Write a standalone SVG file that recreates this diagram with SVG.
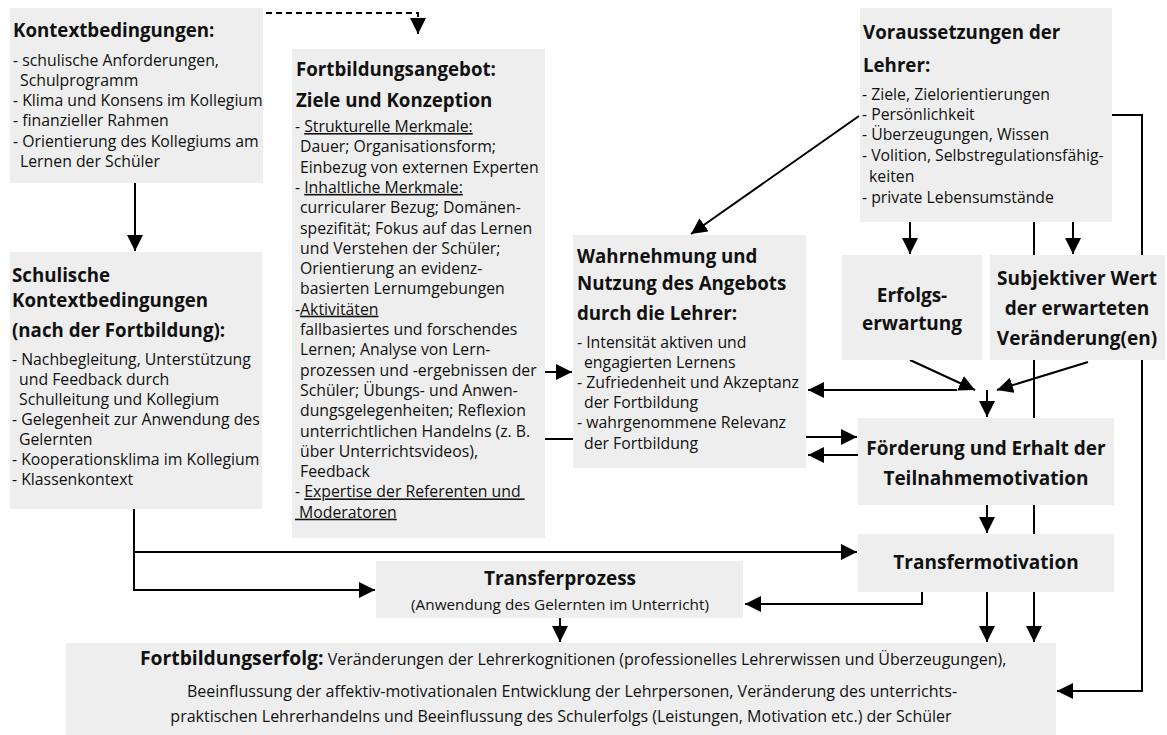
<svg xmlns="http://www.w3.org/2000/svg" width="1167" height="735" viewBox="0 0 1167 735">
  <style>
    .box { fill: #eeeeee; }
    .t { font-family: "Open Sans", "Liberation Sans", sans-serif; font-size: 15.8px; fill: #111; }
    .h { font-family: "Open Sans", "Liberation Sans", sans-serif; font-size: 18.7px; font-weight: bold; fill: #111; }
    .hb { font-family: "Open Sans", "Liberation Sans", sans-serif; font-size: 19px; font-weight: bold; fill: #111; text-anchor: middle; }
    .b16 { font-size: 16px; }
    .u { text-decoration: underline; }
    .ln { fill: none; stroke: #000; stroke-width: 2; }
    .dash { fill: none; stroke: #000; stroke-width: 2; stroke-dasharray: 6 4; }
  </style>
  <defs>
    <marker id="ah" markerUnits="userSpaceOnUse" markerWidth="17" markerHeight="16" refX="16" refY="8" orient="auto">
      <path d="M0,0 L16,8 L0,16 z" fill="#000"/>
    </marker>
  </defs>

  <rect width="1167" height="735" fill="#ffffff"/>

  <g id="connectors">
    <!-- dashed link into the offer box -->
    <path class="dash" d="M266,13 H418 V34" marker-end="url(#ah)"/>
    <!-- context -> school context -->
    <path class="ln" d="M135,183 V251" marker-end="url(#ah)"/>
    <!-- school context -> transfer motivation / transfer process -->
    <path class="ln" d="M134,509 V590 H375" marker-end="url(#ah)"/>
    <path class="ln" d="M134,552 H857" marker-end="url(#ah)"/>
    <!-- offer -> perception -->
    <path class="ln" d="M545,372 H572" marker-end="url(#ah)"/>
    <path class="ln" d="M545,439 H573"/>
    <!-- teacher prerequisites -->
    <path class="ln" d="M859,116 L691,234" marker-end="url(#ah)"/>
    <path class="ln" d="M910,222 V254" marker-end="url(#ah)"/>
    <path class="ln" d="M1073,222 V254" marker-end="url(#ah)"/>
    <path class="ln" d="M1034,222 V642" marker-end="url(#ah)"/>
    <path class="ln" d="M1112,115 H1142 V691 H1057" marker-end="url(#ah)"/>
    <!-- expectancy / value -> motivation -->
    <path class="ln" d="M910,360 L975,390" marker-end="url(#ah)"/>
    <path class="ln" d="M1088,362 L997,390" marker-end="url(#ah)"/>
    <path class="ln" d="M987,390 V417" marker-end="url(#ah)"/>
    <path class="ln" d="M957,390 H808" marker-end="url(#ah)"/>
    <!-- perception <-> participation motivation -->
    <path class="ln" d="M806,437 H857" marker-end="url(#ah)"/>
    <path class="ln" d="M858,455 H808" marker-end="url(#ah)"/>
    <!-- motivation chain -->
    <path class="ln" d="M987,505 V533" marker-end="url(#ah)"/>
    <path class="ln" d="M922,592 V604 H745" marker-end="url(#ah)"/>
    <path class="ln" d="M987,592 V642" marker-end="url(#ah)"/>
    <path class="ln" d="M560,618 V642" marker-end="url(#ah)"/>
  </g>

  <g id="kontext">
    <rect class="box" x="10" y="8" width="253" height="175"/>
    <text class="h" x="13" y="37">Kontextbedingungen:</text>
    <text class="t" x="13" y="66">- schulische Anforderungen,</text>
    <text class="t" x="20" y="86">Schulprogramm</text>
    <text class="t" x="13" y="106">- Klima und Konsens im Kollegium</text>
    <text class="t" x="13" y="126">- finanzieller Rahmen</text>
    <text class="t" x="13" y="147">- Orientierung des Kollegiums am</text>
    <text class="t" x="20" y="167">Lernen der Schüler</text>
  </g>

  <g id="angebot">
    <rect class="box" x="292" y="49" width="253" height="489"/>
    <text class="h" x="296" y="76">Fortbildungsangebot:</text>
    <text class="h" x="296" y="107">Ziele und Konzeption</text>
    <text class="t" x="295" y="132">- <tspan class="u">Strukturelle Merkmale:</tspan></text>
    <text class="t" x="300" y="152.3">Dauer; Organisationsform;</text>
    <text class="t" x="300" y="172.6">Einbezug von externen Experten</text>
    <text class="t" x="295" y="192.9">- <tspan class="u">Inhaltliche Merkmale:</tspan></text>
    <text class="t" x="300" y="213.2">curricularer Bezug; Domänen-</text>
    <text class="t" x="300" y="233.5">spezifität; Fokus auf das Lernen</text>
    <text class="t" x="300" y="253.8">und Verstehen der Schüler;</text>
    <text class="t" x="300" y="274.1">Orientierung an evidenz-</text>
    <text class="t" x="300" y="294.4">basierten Lernumgebungen</text>
    <text class="t" x="295" y="314.7">-<tspan class="u">Aktivitäten</tspan></text>
    <text class="t" x="300" y="335">fallbasiertes und forschendes</text>
    <text class="t" x="300" y="355.3">Lernen; Analyse von Lern-</text>
    <text class="t" x="300" y="375.6">prozessen und -ergebnissen der</text>
    <text class="t" x="300" y="395.9">Schüler; Übungs- und Anwen-</text>
    <text class="t" x="300" y="416.2">dungsgelegenheiten; Reflexion</text>
    <text class="t" x="300" y="436.5">unterrichtlichen Handelns (z. B.</text>
    <text class="t" x="300" y="456.8">über Unterrichtsvideos),</text>
    <text class="t" x="300" y="477.1">Feedback</text>
    <text class="t" x="295" y="497.4" style="white-space:pre">- <tspan class="u">Expertise der Referenten und </tspan></text>
    <text class="t" x="295" y="517.7" style="white-space:pre"><tspan class="u"> Moderatoren</tspan></text>
  </g>

  <g id="schulkontext">
    <rect class="box" x="10" y="252" width="252" height="257"/>
    <text class="h" x="12" y="282">Schulische</text>
    <text class="h" x="12" y="307">Kontextbedingungen</text>
    <text class="h" x="12" y="337">(nach der Fortbildung):</text>
    <text class="t" x="12" y="365">- Nachbegleitung, Unterstützung</text>
    <text class="t" x="19" y="385">und Feedback durch</text>
    <text class="t" x="19" y="405">Schulleitung und Kollegium</text>
    <text class="t" x="12" y="425">- Gelegenheit zur Anwendung des</text>
    <text class="t" x="19" y="445">Gelernten</text>
    <text class="t" x="12" y="465">- Kooperationsklima im Kollegium</text>
    <text class="t" x="12" y="485">- Klassenkontext</text>
  </g>

  <g id="wahrnehmung">
    <rect class="box" x="573" y="235" width="233" height="233"/>
    <text class="h" x="577" y="263">Wahrnehmung und</text>
    <text class="h" x="577" y="290">Nutzung des Angebots</text>
    <text class="h" x="577" y="320">durch die Lehrer:</text>
    <text class="t" x="577" y="348">- Intensität aktiven und</text>
    <text class="t" x="584" y="368">engagierten Lernens</text>
    <text class="t" x="577" y="388">- Zufriedenheit und Akzeptanz</text>
    <text class="t" x="584" y="408">der Fortbildung</text>
    <text class="t" x="577" y="428">- wahrgenommene Relevanz</text>
    <text class="t" x="584" y="449">der Fortbildung</text>
  </g>

  <g id="voraussetzungen">
    <rect class="box" x="860" y="8" width="252" height="214"/>
    <text class="h" x="863" y="39">Voraussetzungen der</text>
    <text class="h" x="863" y="72">Lehrer:</text>
    <text class="t" x="862" y="100">- Ziele, Zielorientierungen</text>
    <text class="t" x="862" y="120">- Persönlichkeit</text>
    <text class="t" x="862" y="140">- Überzeugungen, Wissen</text>
    <text class="t" x="862" y="161">- Volition, Selbstregulationsfähig-</text>
    <text class="t" x="869" y="182">keiten</text>
    <text class="t" x="862" y="203">- private Lebensumstände</text>
  </g>

  <g id="erfolgserwartung">
    <rect class="box" x="842" y="255" width="140" height="105"/>
    <text class="hb" x="912" y="302">Erfolgs-</text>
    <text class="hb" x="912" y="330">erwartung</text>
  </g>

  <g id="subjektiver-wert">
    <rect class="box" x="990" y="255" width="175" height="105"/>
    <text class="hb" x="1077" y="285">Subjektiver Wert</text>
    <text class="hb" x="1077" y="315">der erwarteten</text>
    <text class="hb" x="1077" y="345">Veränderung(en)</text>
  </g>

  <g id="teilnahmemotivation">
    <rect class="box" x="858" y="418" width="256" height="87"/>
    <text class="hb" x="986" y="455">Förderung und Erhalt der</text>
    <text class="hb" x="986" y="485">Teilnahmemotivation</text>
  </g>

  <g id="transfermotivation">
    <rect class="box" x="858" y="534" width="256" height="58"/>
    <text class="hb" x="986" y="569">Transfermotivation</text>
  </g>

  <g id="transferprozess">
    <rect class="box" x="376" y="561" width="367" height="57"/>
    <text class="hb" x="560" y="585">Transferprozess</text>
    <text class="t" x="560" y="610" text-anchor="middle" style="font-size:15.3px">(Anwendung des Gelernten im Unterricht)</text>
  </g>

  <g id="fortbildungserfolg">
    <rect class="box" x="66" y="643" width="990" height="92"/>
    <text class="t b16" x="140" y="665"><tspan style="font-weight:bold;font-size:19.3px">Fortbildungserfolg:</tspan> Veränderungen der Lehrerkognitionen (professionelles Lehrerwissen und Überzeugungen),</text>
    <text class="t b16" x="572" y="697" text-anchor="middle">Beeinflussung der affektiv-motivationalen Entwicklung der Lehrpersonen, Veränderung des unterrichts-</text>
    <text class="t b16" x="561" y="722" text-anchor="middle">praktischen Lehrerhandelns und Beeinflussung des Schulerfolgs (Leistungen, Motivation etc.) der Schüler</text>
  </g>
</svg>
